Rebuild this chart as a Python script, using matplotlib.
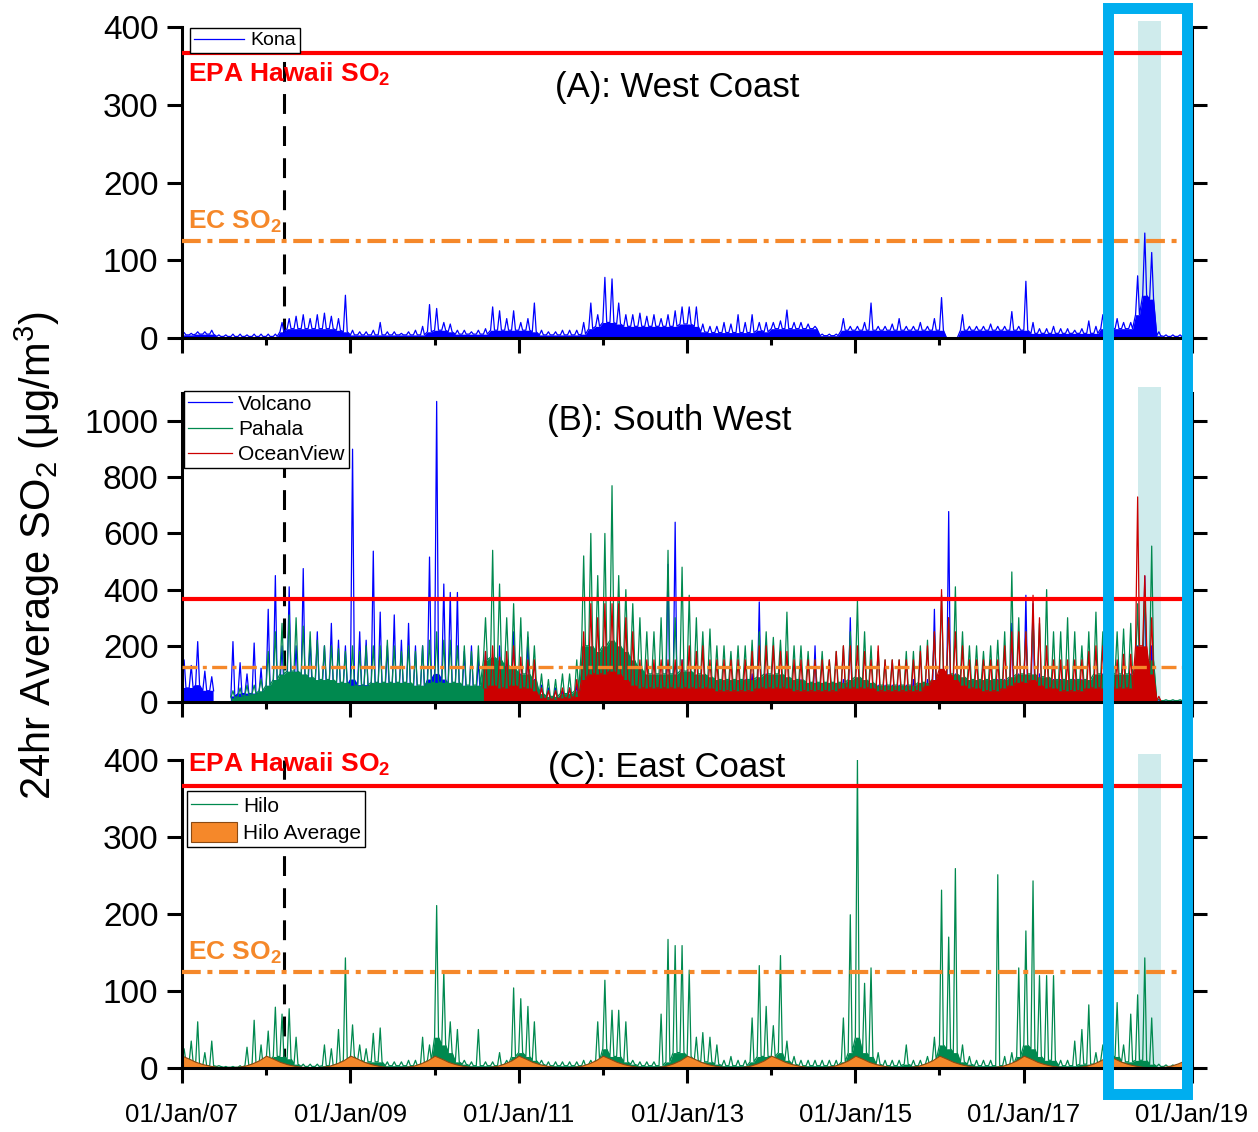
import numpy as np
import pandas as pd
import matplotlib
matplotlib.use('Agg')
import matplotlib.pyplot as plt
import matplotlib.dates as mdates
from matplotlib.patches import Rectangle
from matplotlib.transforms import blended_transform_factory
from datetime import datetime

plt.rcParams['font.family'] = ['Liberation Sans', 'DejaVu Sans']
plt.rcParams['mathtext.fontset'] = 'custom'
plt.rcParams['mathtext.rm'] = 'Liberation Sans'
plt.rcParams['mathtext.bf'] = 'Liberation Sans:bold'
plt.rcParams['mathtext.it'] = 'Liberation Sans:italic'
plt.rcParams['legend.fancybox'] = False

nan = np.nan

# one value per month, Jan 2007 .. Dec 2018
months = pd.date_range('2007-01-01', periods=144, freq='MS')

# typical daily level (base) and monthly spike (peak)
kona_base = [
    4, 4, 5, 5, 5, 2, 2, 2, 2, 2, 2, 2,
    2, 2, 8, 12, 12, 12, 12, 12, 12, 12, 10, 8,
    4, 4, 4, 4, 4, 4, 4, 4, 4, 4, 4, 8,
    10, 10, 8, 5, 5, 5, 5, 5, 10, 10, 10, 10,
    10, 10, 8, 4, 4, 4, 4, 4, 4, 5, 12, 15,
    20, 20, 18, 15, 15, 15, 15, 15, 15, 15, 15, 18,
    18, 15, 8, 7, 7, 7, 7, 7, 7, 7, 10, 8,
    12, 12, 12, 12, 12, 12, 12, 3, 3, 3, 10, 10,
    10, 10, 10, 10, 10, 10, 10, 10, 10, 10, 10, 10,
    10, 0, 0, 10, 10, 10, 10, 10, 10, 10, 10, 10,
    10, 6, 6, 6, 6, 6, 6, 6, 6, 6, 6, 12,
    12, 12, 12, 12, 30, 55, 50, 3, 2, 2, 2, 2,
]
kona_peak = [
    7, 6, 8, 8, 10, 4, 4, 5, 5, 4, 5, 5,
    5, 5, 20, 25, 28, 30, 25, 30, 32, 28, 25, 55,
    10, 8, 8, 10, 20, 8, 8, 6, 8, 10, 15, 43,
    38, 20, 18, 10, 10, 8, 10, 12, 40, 35, 25, 35,
    20, 25, 45, 10, 8, 8, 10, 10, 10, 20, 45, 30,
    78, 76, 45, 30, 30, 32, 28, 30, 25, 30, 35, 40,
    40, 40, 18, 15, 15, 20, 18, 30, 20, 30, 20, 20,
    20, 22, 36, 20, 20, 18, 15, 5, 5, 5, 25, 15,
    15, 20, 45, 15, 15, 18, 25, 15, 15, 20, 15, 25,
    52, 0, 0, 30, 15, 15, 15, 18, 15, 15, 34, 15,
    73, 20, 12, 12, 15, 12, 12, 10, 12, 22, 15, 30,
    20, 25, 20, 20, 80, 135, 110, 8, 4, 4, 4, 3,
]

volcano_base = [
    50, 50, 60, 40, 40, nan, nan, 20, 30, 30, 30, 30,
    50, 60, 60, 60, 60, 60, 60, 60, 60, 60, 60, 60,
    80, 60, 60, 50, 50, 50, 50, 50, 40, 40, 50, 80,
    100, 80, 60, 40, 40, 40, 30, 30, 30, 30, 30, 40,
    20, 20, 15, 10, 10, 10, 10, 10, 10, 10, 10, 10,
    10, 10, 10, 10, 10, 10, 10, 10, 10, 10, 10, 10,
    10, 10, 10, 10, 10, 10, 10, 10, 10, 10, 10, 10,
    10, 10, 10, 10, 10, 10, 10, 10, 10, 10, 10, 10,
    10, 10, 10, 10, 10, 10, 10, 10, 10, 10, 10, 10,
    10, 10, 10, 10, 10, 10, 10, 10, 10, 10, 10, 10,
    10, 10, 10, 10, 10, 10, 10, 10, 10, 10, 10, 10,
    10, 10, 10, 15, 40, 50, 30, 2, 2, 2, 2, 2,
]
volcano_peak = [
    150, 130, 215, 110, 90, nan, nan, 215, 140, 100, 210, 120,
    330, 450, 200, 410, 200, 475, 220, 250, 200, 280, 220, 200,
    900, 250, 220, 537, 320, 200, 310, 220, 280, 200, 200, 516,
    1070, 420, 390, 390, 180, 200, 150, 180, 150, 200, 150, 250,
    100, 230, 80, 60, 50, 50, 40, 50, 60, 60, 80, 100,
    120, 80, 100, 80, 60, 60, 60, 60, 80, 490, 640, 150,
    80, 60, 60, 80, 60, 50, 60, 60, 80, 100, 356, 100,
    60, 80, 60, 60, 80, 60, 200, 60, 60, 60, 80, 300,
    80, 60, 60, 60, 60, 60, 60, 60, 80, 60, 80, 330,
    100, 678, 100, 60, 60, 60, 60, 60, 80, 80, 280, 100,
    380, 350, 100, 80, 80, 80, 60, 80, 80, 60, 80, 100,
    60, 60, 80, 100, 200, 448, 200, 10, 3, 3, 3, 3,
]

pahala_base = [
    nan, nan, nan, nan, nan, nan, nan, 15, 20, 25, 30, 40,
    60, 80, 100, 110, 110, 100, 90, 80, 80, 80, 70, 70,
    60, 60, 60, 70, 70, 70, 70, 70, 70, 60, 60, 70,
    70, 70, 70, 70, 60, 60, 60, 150, 160, 150, 130, 120,
    100, 100, 80, 30, 20, 20, 30, 30, 40, 200, 200, 180,
    200, 220, 200, 180, 150, 120, 100, 100, 100, 100, 100, 110,
    110, 100, 100, 90, 80, 80, 80, 80, 80, 80, 90, 100,
    100, 100, 90, 80, 80, 70, 70, 70, 70, 70, 70, 80,
    90, 80, 70, 60, 60, 60, 60, 60, 60, 70, 70, 80,
    100, 100, 100, 90, 80, 80, 80, 80, 80, 80, 90, 100,
    100, 100, 90, 90, 80, 80, 80, 80, 80, 80, 100, 100,
    100, 100, 100, 100, 120, 150, 150, 5, 5, 5, 5, 5,
]
pahala_peak = [
    nan, nan, nan, nan, nan, nan, nan, 40, 50, 60, 60, 80,
    180, 250, 280, 310, 300, 270, 250, 220, 200, 200, 190, 180,
    200, 180, 200, 200, 200, 220, 200, 180, 200, 180, 200, 220,
    250, 220, 220, 200, 200, 180, 200, 300, 540, 420, 300, 350,
    300, 250, 200, 100, 80, 80, 100, 100, 150, 520, 600, 450,
    600, 770, 450, 400, 350, 300, 250, 250, 300, 540, 300, 480,
    380, 300, 250, 260, 200, 200, 180, 200, 200, 220, 250, 250,
    230, 220, 320, 200, 200, 180, 150, 180, 150, 180, 200, 250,
    360, 250, 200, 180, 150, 150, 150, 180, 180, 200, 220, 250,
    380, 300, 410, 250, 200, 200, 180, 200, 220, 250, 463, 300,
    250, 300, 280, 400, 250, 250, 300, 250, 200, 250, 320, 250,
    300, 250, 260, 280, 350, 400, 555, 10, 8, 8, 8, 8,
]

oceanview_base = [
    nan, nan, nan, nan, nan, nan, nan, nan, nan, nan, nan, nan,
    nan, nan, nan, nan, nan, nan, nan, nan, nan, nan, nan, nan,
    nan, nan, nan, nan, nan, nan, nan, nan, nan, nan, nan, nan,
    nan, nan, nan, nan, nan, nan, nan, 50, 60, 50, 50, 60,
    50, 50, 40, 15, 10, 10, 15, 15, 20, 80, 100, 100,
    100, 110, 100, 80, 60, 50, 50, 50, 50, 50, 50, 50,
    50, 50, 50, 50, 40, 40, 40, 40, 40, 40, 50, 50,
    50, 50, 50, 40, 40, 40, 40, 40, 40, 40, 50, 50,
    50, 50, 50, 40, 40, 40, 40, 40, 40, 40, 60, 80,
    120, 100, 80, 60, 50, 50, 40, 40, 40, 50, 60, 70,
    70, 80, 60, 50, 50, 40, 40, 40, 40, 50, 50, 50,
    50, 50, 50, 50, 200, 200, 100, 5, nan, nan, nan, nan,
]
oceanview_peak = [
    nan, nan, nan, nan, nan, nan, nan, nan, nan, nan, nan, nan,
    nan, nan, nan, nan, nan, nan, nan, nan, nan, nan, nan, nan,
    nan, nan, nan, nan, nan, nan, nan, nan, nan, nan, nan, nan,
    nan, nan, nan, nan, nan, nan, nan, 180, 200, 160, 180, 200,
    160, 150, 150, 50, 40, 40, 50, 50, 80, 250, 350, 300,
    350, 350, 350, 300, 250, 150, 150, 150, 150, 150, 150, 150,
    200, 180, 200, 150, 150, 150, 150, 150, 150, 180, 200, 200,
    200, 180, 180, 150, 150, 150, 150, 150, 150, 180, 200, 200,
    200, 180, 150, 200, 150, 150, 150, 150, 150, 180, 200, 250,
    400, 300, 250, 200, 150, 150, 150, 150, 150, 200, 250, 250,
    250, 380, 300, 200, 150, 150, 150, 150, 150, 180, 200, 200,
    170, 150, 170, 170, 730, 450, 300, 20, nan, nan, nan, nan,
]

hilo_base = [
    8, 8, 5, 3, 3, 2, 1, 1, 1, 3, 5, 5,
    10, 15, 15, 12, 5, 2, 2, 2, 3, 3, 5, 10,
    15, 10, 8, 8, 8, 3, 3, 3, 3, 3, 5, 10,
    40, 30, 20, 8, 5, 3, 3, 3, 3, 3, 5, 15,
    20, 15, 10, 5, 3, 3, 3, 3, 3, 3, 5, 10,
    25, 15, 15, 8, 5, 3, 3, 3, 3, 8, 20, 20,
    15, 10, 8, 8, 5, 3, 3, 3, 3, 8, 15, 15,
    15, 20, 10, 5, 3, 3, 3, 3, 3, 3, 8, 20,
    40, 20, 15, 5, 3, 3, 3, 5, 3, 3, 5, 10,
    30, 25, 20, 8, 5, 3, 3, 3, 3, 3, 5, 15,
    30, 25, 15, 10, 10, 3, 3, 3, 5, 5, 5, 10,
    15, 15, 8, 8, 10, 10, 5, 2, 2, 2, 2, 2,
]
hilo_peak = [
    25, 35, 60, 20, 35, 3, 2, 2, 3, 27, 62, 30,
    48, 79, 70, 77, 40, 5, 5, 5, 30, 25, 50, 143,
    56, 30, 25, 45, 52, 8, 8, 8, 10, 10, 40, 30,
    211, 125, 60, 50, 10, 8, 50, 8, 8, 20, 10, 104,
    90, 80, 60, 10, 8, 8, 8, 8, 8, 10, 10, 60,
    114, 75, 75, 60, 10, 8, 8, 8, 70, 167, 159, 159,
    127, 40, 46, 40, 30, 10, 15, 10, 10, 65, 133, 80,
    55, 146, 35, 15, 10, 10, 10, 10, 10, 10, 65, 199,
    400, 110, 130, 20, 10, 10, 10, 30, 10, 10, 15, 40,
    231, 170, 259, 30, 15, 10, 10, 10, 251, 15, 20, 130,
    178, 243, 120, 120, 120, 10, 10, 35, 50, 82, 20, 30,
    90, 85, 30, 70, 95, 143, 65, 5, 4, 4, 3, 3,
]

# multi-year monthly average at Hilo (same curve every year)
hilo_avg_month = [16, 12, 8, 5, 3, 1.5, 1, 1, 1.5, 3, 6, 10]

EPA_LIMIT = 366
EC_LIMIT = 125
eruption_2008 = pd.Timestamp('2008-03-19')
lerz_start = pd.Timestamp('2018-05-10')
lerz_end = pd.Timestamp('2018-08-20')

C_BLUE = '#0000FF'
C_GREEN = '#00894F'
C_RED = '#CC0000'
C_EPA = '#FF0000'
C_EC = '#F5882A'
C_SHADE = '#CFEBEC'
C_BOX = '#00AEEF'


def spikes(base, peak):
    # base level through the month with one narrow spike to the peak
    x = np.empty(3 * len(months), dtype='datetime64[ns]')
    x[0::3] = months.values
    x[1::3] = (months + pd.Timedelta(days=9)).values
    x[2::3] = (months + pd.Timedelta(days=17)).values
    base = np.asarray(base, dtype=float)
    y = np.empty(3 * len(months))
    y[0::3] = base
    y[1::3] = peak
    y[2::3] = base
    floor = np.repeat(base, 3)
    return x, y, floor


def draw_series(ax, base, peak, color, label):
    x, y, floor = spikes(base, peak)
    ax.fill_between(x, 0, floor, color=color, lw=0, zorder=2)
    line, = ax.plot(x, y, color=color, lw=0.9, label=label, zorder=2)
    return line


def style_axis(ax, ymax, yticks, show_xlabels):
    ax.set_xlim(pd.Timestamp('2007-01-01'), pd.Timestamp('2019-01-01'))
    ax.set_ylim(0, ymax)
    ax.set_yticks(yticks)
    ax.set_xticks([mdates.date2num(datetime(y, 1, 1)) for y in range(2007, 2020, 2)])
    ax.set_xticks([mdates.date2num(datetime(y, 1, 1)) for y in range(2008, 2019, 2)], minor=True)
    ax.xaxis.set_major_formatter(mdates.DateFormatter('%d/%b/%y'))
    ax.spines['top'].set_visible(False)
    for s in ['left', 'right', 'bottom']:
        ax.spines[s].set_linewidth(2.2)
    ax.tick_params(axis='both', which='major', direction='out', length=11,
                   width=2.2, labelsize=24, pad=6)
    ax.tick_params(axis='x', which='minor', direction='out', length=5, width=2.2)
    ax.tick_params(axis='y', right=True, labelright=False)
    ax.tick_params(axis='x', labelsize=18.5, pad=14, labelbottom=show_xlabels)


def add_limits(ax, lw_epa=3.0, lw_ec=3.0):
    ax.axhline(EPA_LIMIT, color=C_EPA, lw=lw_epa, zorder=3)
    ax.axhline(EC_LIMIT, color=C_EC, lw=lw_ec, zorder=3,
               linestyle=(0, (4.5, 1.6, 1.2, 1.6)))
    ax.axvline(eruption_2008, color='black', lw=2.2, zorder=1.5,
               linestyle=(0, (6.5, 4)))
    ax.axvspan(lerz_start, lerz_end, ymin=0, ymax=1.018, color=C_SHADE,
               lw=0, zorder=0, clip_on=False)


def boxed_legend(ax, handles, labels, anchor, size, **kw):
    leg = ax.legend(handles, labels, loc='upper left', bbox_to_anchor=anchor,
                    borderaxespad=0, fontsize=size, frameon=True, framealpha=1,
                    edgecolor='black', handletextpad=0.3, borderpad=0.2, **kw)
    leg.get_frame().set_linewidth(1.0)
    leg.set_zorder(5)
    return leg


fig = plt.figure(figsize=(12.58, 11.32), dpi=100)
ax_a = fig.add_axes([0.1447, 0.70141, 0.80286, 0.27473])
ax_b = fig.add_axes([0.1447, 0.37986, 0.80286, 0.27297])
ax_c = fig.add_axes([0.1447, 0.05654, 0.80286, 0.27208])

# (A) West Coast
kona_line = draw_series(ax_a, kona_base, kona_peak, C_BLUE, 'Kona')
add_limits(ax_a)
style_axis(ax_a, 400, [0, 100, 200, 300, 400], False)
tr = blended_transform_factory(ax_a.transAxes, ax_a.transData)
ax_a.text(0.006, 329, r'EPA Hawaii SO$_\mathbf{2}$', color=C_EPA, fontsize=19,
          fontweight='bold', transform=tr, va='baseline', zorder=4)
ax_a.text(0.006, 140, r'EC SO$_\mathbf{2}$', color=C_EC, fontsize=19,
          fontweight='bold', transform=tr, va='baseline', zorder=4)
ax_a.text(0.369, 310, '(A): West Coast', fontsize=25, transform=tr,
          va='baseline', zorder=4)
boxed_legend(ax_a, [kona_line], ['Kona'], (0.0079, 0.997), 14,
             handlelength=2.6)

# (B) South West
b_lines = []
for base, peak, color, name in [(volcano_base, volcano_peak, C_BLUE, 'Volcano'),
                                (pahala_base, pahala_peak, C_GREEN, 'Pahala'),
                                (oceanview_base, oceanview_peak, C_RED, 'OceanView')]:
    b_lines.append(draw_series(ax_b, base, peak, color, name))
add_limits(ax_b, lw_epa=3.0, lw_ec=2.4)
style_axis(ax_b, 1100, [0, 200, 400, 600, 800, 1000], False)
tr = blended_transform_factory(ax_b.transAxes, ax_b.transData)
ax_b.text(0.361, 967, '(B): South West', fontsize=25, transform=tr,
          va='baseline', zorder=4)
boxed_legend(ax_b, b_lines, ['Volcano', 'Pahala', 'OceanView'],
             (0.002, 1.008), 15, handlelength=2.1, labelspacing=0.3)

# (C) East Coast
hilo_line = draw_series(ax_c, hilo_base, hilo_peak, C_GREEN, 'Hilo')
avg_y = np.tile(hilo_avg_month, 12)
hilo_fill = ax_c.fill_between(months.values, 0, avg_y, facecolor=C_EC,
                              edgecolor='#8A4A14', lw=0.8, zorder=2.5)
add_limits(ax_c)
style_axis(ax_c, 400, [0, 100, 200, 300, 400], True)
tr = blended_transform_factory(ax_c.transAxes, ax_c.transData)
ax_c.text(0.006, 385, r'EPA Hawaii SO$_\mathbf{2}$', color=C_EPA, fontsize=19,
          fontweight='bold', transform=tr, va='baseline', zorder=4)
ax_c.text(0.006, 140, r'EC SO$_\mathbf{2}$', color=C_EC, fontsize=19,
          fontweight='bold', transform=tr, va='baseline', zorder=4)
ax_c.text(0.362, 378, '(C): East Coast', fontsize=25, transform=tr,
          va='baseline', zorder=4)
boxed_legend(ax_c, [hilo_line, hilo_fill], ['Hilo', 'Hilo Average'],
             (0.005, 0.899), 15, handlelength=2.2, handleheight=1.1,
             labelspacing=0.25)

fig.text(0.030, 0.5097, r'24hr Average SO$_2$ (μg/m$^3$)', rotation=90,
         fontsize=30, ha='center', va='center')

# highlight box around the 2018 eruption period
fig.add_artist(Rectangle((1107.5 / 1258, 1 - 1093.5 / 1132), 79.5 / 1258,
                         1086 / 1132, transform=fig.transFigure, fill=False,
                         edgecolor=C_BOX, lw=7.9, joinstyle='miter', zorder=10))

fig.savefig('out.png', dpi=100)
